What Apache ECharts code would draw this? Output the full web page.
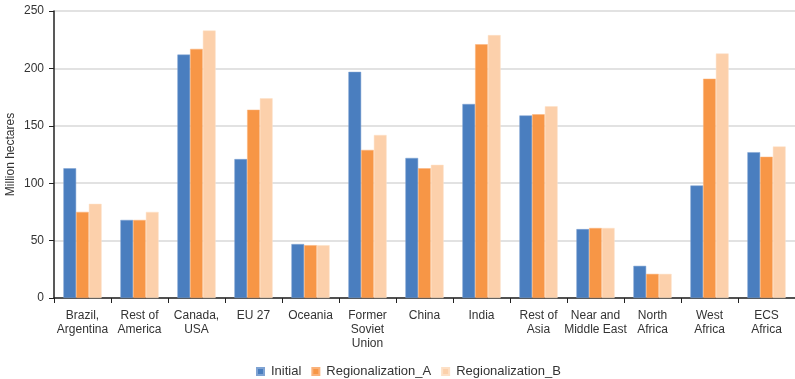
<!DOCTYPE html>
<html><head><meta charset="utf-8">
<script src="https://cdn.jsdelivr.net/npm/echarts@6/dist/echarts.min.js"></script>
<style>html,body{margin:0;padding:0;background:#fff}#c{width:795px;height:379px}</style>
</head><body><div id="c"></div>
<script>
const categories = ['Brazil,\nArgentina','Rest of\nAmerica','Canada,\nUSA','EU 27','Oceania','Former\nSoviet\nUnion','China','India','Rest of\nAsia','Near and\nMiddle East','North\nAfrica','West\nAfrica','ECS\nAfrica'];
const initial = [113, 68, 212, 121, 47, 197, 122, 169, 159, 60, 28, 98, 127];
const regA = [75, 68, 217, 164, 46, 129, 113, 221, 160, 61, 21, 191, 123];
const regB = [82, 75, 233, 174, 46, 142, 116, 229, 167, 61, 21, 213, 132];
const yTicks = [0, 50, 100, 150, 200, 250];

const chart = echarts.init(document.getElementById('c'));
const font = 'Liberation Sans, Arial, sans-serif';
chart.setOption({
  animation: false,
  textStyle: {fontFamily: font},
  grid: {left: 54, right: 0, top: 11, bottom: 81, containLabel: false, outerBoundsMode: 'none'},
  legend: {
    top: 360, left: 251, itemWidth: 7, itemHeight: 7, itemGap: 10,
    icon: 'rect',
    textStyle: {fontSize: 13, color: '#333', fontFamily: font, padding: [0,0,0,2]},
    data: ['Initial','Regionalization_A','Regionalization_B']
  },
  xAxis: {
    type: 'category', data: categories,
    axisLine: {lineStyle: {color: '#222', width: 1.5}},
    axisTick: {show: true, length: 5, alignWithLabel: false, lineStyle: {color: '#222'}},
    axisLabel: {fontSize: 12, color: '#333', lineHeight: 14, margin: 11, interval: 0, fontFamily: font}
  },
  yAxis: {
    type: 'value', min: yTicks[0], max: yTicks[yTicks.length-1], interval: 50,
    name: 'Million hectares', nameLocation: 'middle', nameGap: 37, nameRotate: 90,
    nameMoveOverlap: false,
    nameTextStyle: {fontSize: 12, color: '#333', fontFamily: font},
    axisLine: {show: true, lineStyle: {color: '#222', width: 1.5}},
    axisTick: {show: true, length: 5, lineStyle: {color: '#222'}},
    axisLabel: {fontSize: 12, color: '#333', margin: 10, fontFamily: font},
    splitLine: {lineStyle: {color: '#d9d9d9', width: 1.5}}
  },
  series: [
    {name: 'Initial', type: 'bar', data: initial, barGap: '0%', barCategoryGap: '33%',
     itemStyle: {color: '#4a7ebf', borderColor: '#7fa3d3', borderWidth: 0.5}},
    {name: 'Regionalization_A', type: 'bar', data: regA,
     itemStyle: {color: '#f79646', borderColor: '#fab27a', borderWidth: 0.5}},
    {name: 'Regionalization_B', type: 'bar', data: regB,
     itemStyle: {color: '#fcd0ab', borderColor: '#fde0c6', borderWidth: 0.5}}
  ]
});
</script></body></html>
